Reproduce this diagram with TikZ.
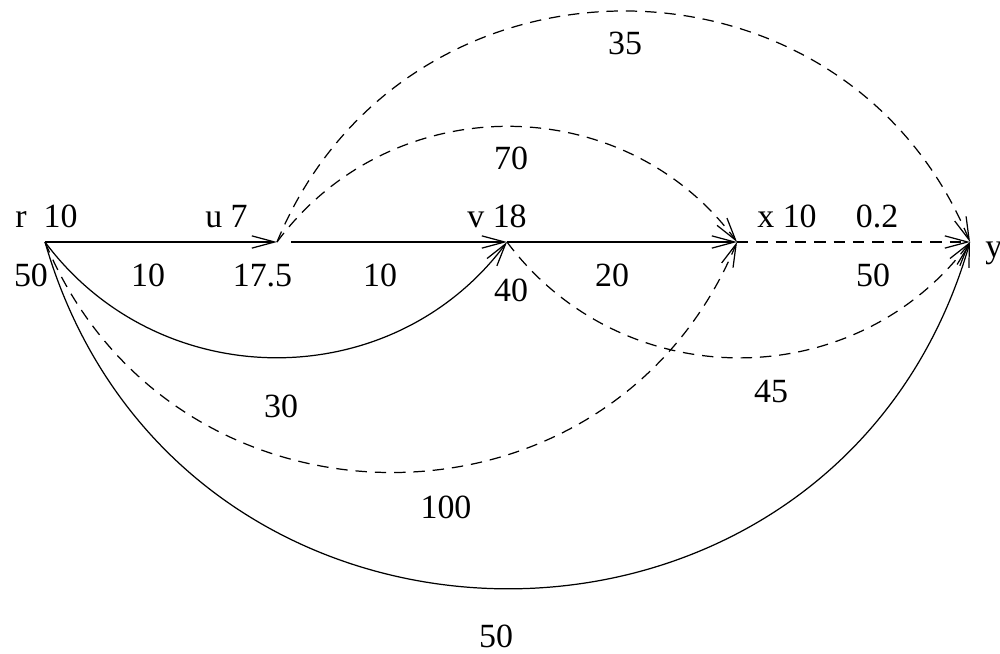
\documentclass[tikz,border=0pt]{standalone}
\usepackage{fontspec}
\setmainfont{Liberation Serif}
\usetikzlibrary{arrows.meta}
\begin{document}
\begin{tikzpicture}[x=0.02cm,y=0.02cm,
  edge/.style={line width=0.7pt,-{Straight Barb[length=13pt,width=7pt,line width=0.7pt]}},
  dsh/.style={dash pattern=on 6.5pt off 4.5pt},
  lbl/.style={anchor=base,inner sep=0pt,font=\fontsize{19.3}{23}\selectfont}]
\useasboundingbox (0,0) rectangle (1000,653);
\coordinate (r) at (45,411);
\coordinate (u) at (277,411);
\coordinate (v) at (507,411);
\coordinate (x) at (737,411);
\coordinate (y) at (970,411);
% straight edges
\draw[edge] (r) -- (u);
\draw[edge,shorten <=8pt] (u) -- (v);
\draw[edge] (v) -- (x);
\draw[edge,dsh] (x) -- (y);
% lower arcs
\draw[edge] (r) to[out=-53.3,in=233.3,looseness=1.066] (v);
\draw[edge,dsh] (r) to[out=-67.5,in=247.5,looseness=1.231] (x);
\draw[edge] (r) to[out=-73.9,in=253.9,looseness=1.333] (y);
\draw[edge,dsh] (v) to[out=-53.2,in=233.2,looseness=1.066] (y);
% upper arcs
\draw[edge,dsh] (u) to[out=53.5,in=126.5,looseness=1.067] (x);
\draw[edge,dsh] (u) to[out=67.6,in=112.4,looseness=1.231] (y);
% labels
\node[lbl] (lr) at (46.5,425) {r\ \ 10};
\node[lbl] (lu) at (226.5,425) {u 7};
\node[lbl] (lv) at (497,425) {v 18};
\node[lbl] (lx) at (787,425) {x 10};
\node[lbl] (lxy) at (877,425) {0.2};
\node[lbl,anchor=base west] (ly) at (985,395) {y};
\node[lbl] (lr2) at (31,366) {50};
\node[lbl] (lru) at (148,366) {10};
\node[lbl] (lu2) at (262.5,366) {17.5};
\node[lbl] (luv) at (380,366) {10};
\node[lbl] (lvx) at (612,366) {20};
\node[lbl] (lxy2) at (873,366) {50};
\node[lbl] (lv2) at (511,351) {40};
\node[lbl] (luy) at (625,598) {35};
\node[lbl] (lux) at (511,483) {70};
\node[lbl] (lrv) at (281,236) {30};
\node[lbl] (lvy) at (771,251) {45};
\node[lbl] (lrx) at (446,135) {100};
\node[lbl] (lry) at (496,6) {50};
\end{tikzpicture}
\end{document}
